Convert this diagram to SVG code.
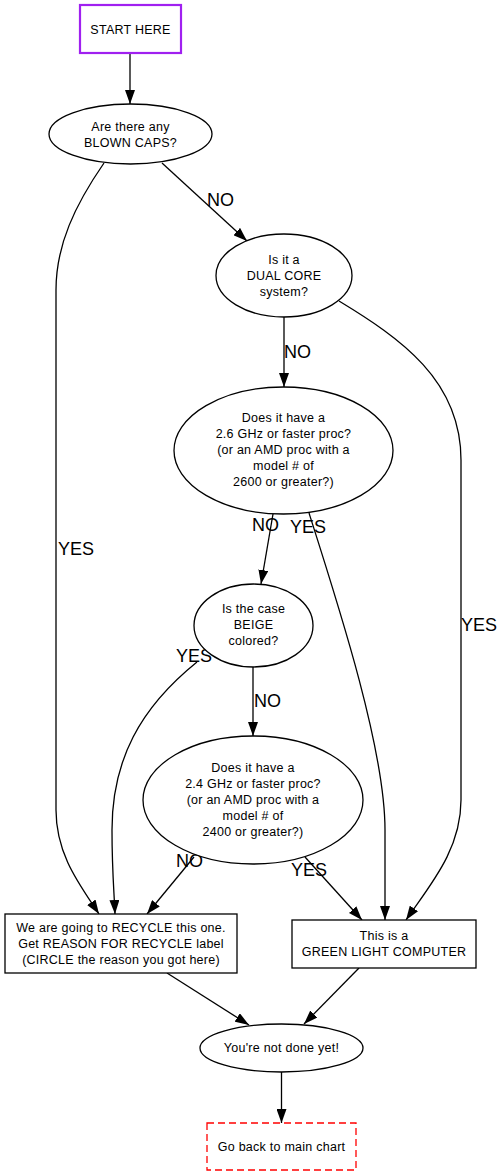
<svg xmlns="http://www.w3.org/2000/svg" width="504" height="1176" viewBox="0 0 504 1176">
<style>
.n{fill:#fff;stroke:#000;stroke-width:1.3}
.t{font-family:"Liberation Sans",Arial,sans-serif;font-size:12.5px;letter-spacing:0.25px;fill:#000;text-anchor:middle}
.l{font-family:"Liberation Sans",Arial,sans-serif;font-size:18px;fill:#000}
.e{fill:none;stroke:#000;stroke-width:1.3}
</style>
<defs>
<marker id="ah" markerUnits="userSpaceOnUse" markerWidth="14" markerHeight="10" refX="14" refY="5" orient="auto" viewBox="0 0 14 10">
<path d="M0,0 L14,5 L0,10 z" fill="#000"/>
</marker>
</defs>
<rect width="504" height="1176" fill="#fff"/>
<g id="connectors">
<path class="e" d="M130,53 L130,104" marker-end="url(#ah)"/>
<path class="e" d="M162,163 L247,241" marker-end="url(#ah)"/>
<path class="e" d="M104,163 C75,205 56,245 56,290 L56,810 C56,855 80,885 99,914" marker-end="url(#ah)"/>
<path class="e" d="M284,317 L284,387" marker-end="url(#ah)"/>
<path class="e" d="M339,301 C400,338 461,380 461,460 L461,800 C461,850 430,885 406,920" marker-end="url(#ah)"/>
<path class="e" d="M273,514 L261,584" marker-end="url(#ah)"/>
<path class="e" d="M309,513 C340,610 385,750 385,830 L385,920" marker-end="url(#ah)"/>
<path class="e" d="M253,667 L253,736" marker-end="url(#ah)"/>
<path class="e" d="M197,662 C140,708 112,760 112,830 C112,870 114,890 115,914" marker-end="url(#ah)"/>
<path class="e" d="M194,857 L147,914" marker-end="url(#ah)"/>
<path class="e" d="M305,857 L362,920" marker-end="url(#ah)"/>
<path class="e" d="M167,973 L249,1025" marker-end="url(#ah)"/>
<path class="e" d="M359,968 L304,1024" marker-end="url(#ah)"/>
<path class="e" d="M281.5,1072 L281.5,1123" marker-end="url(#ah)"/>
<text class="l" x="207" y="206">NO</text>
<text class="l" x="58" y="555">YES</text>
<text class="l" x="284" y="358">NO</text>
<text class="l" x="461" y="631">YES</text>
<text class="l" x="252" y="531">NO</text>
<text class="l" x="290" y="533">YES</text>
<text class="l" x="254" y="707">NO</text>
<text class="l" x="176" y="662">YES</text>
<text class="l" x="176" y="867">NO</text>
<text class="l" x="291" y="876">YES</text>
</g>
<g id="start">
<rect x="80" y="5" width="101" height="48" fill="#fff" stroke="#a020f0" stroke-width="2.2"/>
<text class="t" x="130.5" y="33.5">START HERE</text>
</g>
<g id="blowncaps">
<ellipse class="n" cx="130.5" cy="134" rx="81.5" ry="30"/>
<text class="t" x="130.5" y="131">Are there any</text>
<text class="t" x="130.5" y="147">BLOWN CAPS?</text>
</g>
<g id="dualcore">
<ellipse class="n" cx="284" cy="275.5" rx="68" ry="41.5"/>
<text class="t" x="284" y="264">Is it a</text>
<text class="t" x="284" y="280">DUAL CORE</text>
<text class="t" x="284" y="296">system?</text>
</g>
<g id="ghz26">
<ellipse class="n" cx="283.5" cy="450.5" rx="109.5" ry="63.5"/>
<text class="t" x="283.5" y="422">Does it have a</text>
<text class="t" x="283.5" y="438">2.6 GHz or faster proc?</text>
<text class="t" x="283.5" y="454">(or an AMD proc with a</text>
<text class="t" x="283.5" y="470">model # of</text>
<text class="t" x="283.5" y="486">2600 or greater?)</text>
</g>
<g id="beige">
<ellipse class="n" cx="253.5" cy="625.5" rx="59.5" ry="41.5"/>
<text class="t" x="253.5" y="613">Is the case</text>
<text class="t" x="253.5" y="629">BEIGE</text>
<text class="t" x="253.5" y="645">colored?</text>
</g>
<g id="ghz24">
<ellipse class="n" cx="253" cy="800" rx="110" ry="64"/>
<text class="t" x="253" y="772">Does it have a</text>
<text class="t" x="253" y="788">2.4 GHz or faster proc?</text>
<text class="t" x="253" y="804">(or an AMD proc with a</text>
<text class="t" x="253" y="820">model # of</text>
<text class="t" x="253" y="836">2400 or greater?)</text>
</g>
<g id="recycle">
<rect class="n" x="5" y="914" width="232" height="59"/>
<text class="t" x="121" y="932">We are going to RECYCLE this one.</text>
<text class="t" x="121" y="948">Get REASON FOR RECYCLE label</text>
<text class="t" x="121" y="964">(CIRCLE the reason you got here)</text>
</g>
<g id="green">
<rect class="n" x="292" y="920" width="184" height="48" stroke="#333"/>
<text class="t" x="384" y="940">This is a</text>
<text class="t" x="384" y="956">GREEN LIGHT COMPUTER</text>
</g>
<g id="notdone">
<ellipse class="n" cx="281.5" cy="1048" rx="81.5" ry="24"/>
<text class="t" x="281.5" y="1052">You're not done yet!</text>
</g>
<g id="goback">
<rect x="207" y="1123" width="149" height="47" fill="#fff" stroke="#ff0000" stroke-width="1.3" stroke-dasharray="7,4"/>
<text class="t" x="281.5" y="1151">Go back to main chart</text>
</g>
</svg>
